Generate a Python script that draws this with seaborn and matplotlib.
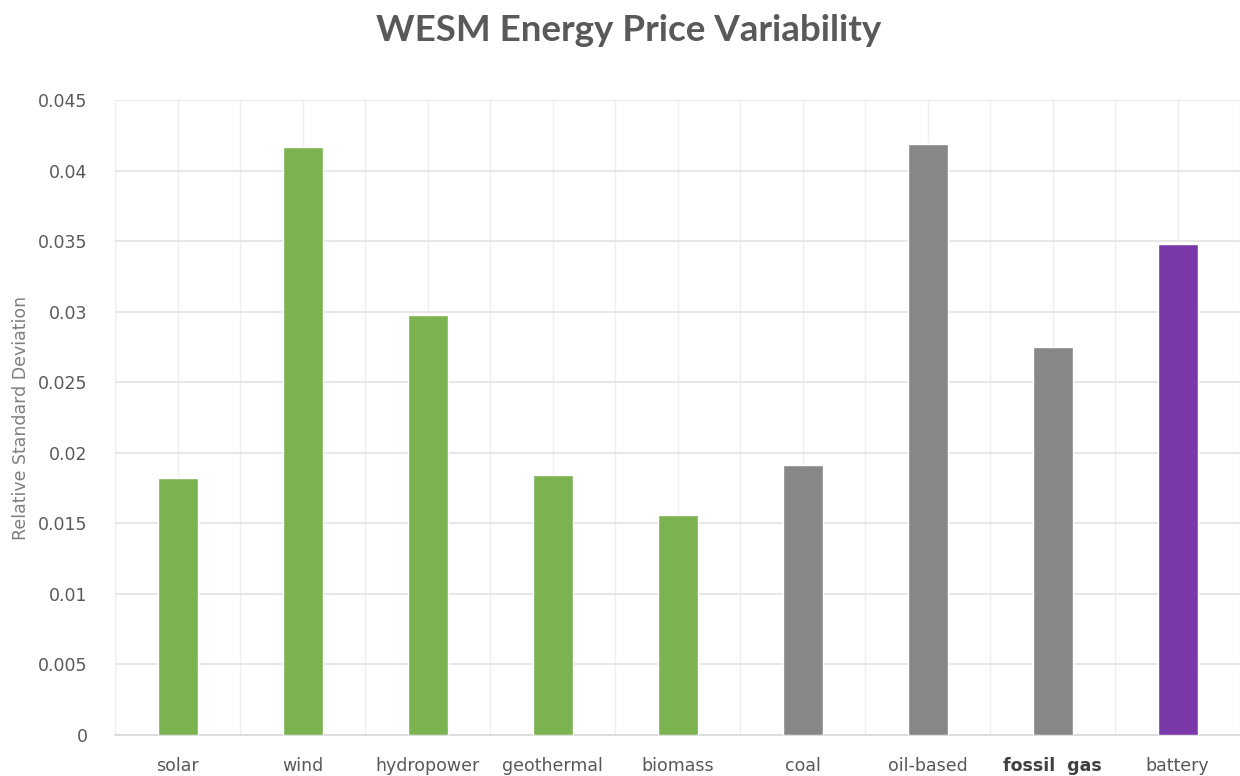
import matplotlib
matplotlib.use("Agg")
import matplotlib.pyplot as plt
import seaborn as sns
import pandas as pd
import numpy as np

categories = ["solar", "wind", "hydropower", "geothermal", "biomass",
              "coal", "oil-based", "fossil gas", "battery"]
rsd_values = [0.0182, 0.0417, 0.0298, 0.0184, 0.0156,
              0.0191, 0.0419, 0.0275, 0.0348]
groups = ["renewable", "renewable", "renewable", "renewable", "renewable",
          "fossil", "fossil", "fossil", "storage"]
group_colors = {"renewable": "#7ab350", "fossil": "#878787", "storage": "#7b38a8"}

df = pd.DataFrame({"source": categories, "rsd": rsd_values, "group": groups})

sns.set_style("white")
plt.rcParams["font.family"] = ["DejaVu Sans"]

fig = plt.figure(figsize=(12.4, 7.76), dpi=100)
ax = fig.add_axes([0.093, 0.053, 0.907, 0.818])

sns.barplot(data=df, x="source", y="rsd", hue="group", palette=group_colors,
            width=0.32, dodge=False, legend=False, saturation=1, ax=ax, zorder=3)

ax.set_xlim(-0.5, len(categories) - 0.5)
ax.set_ylim(0, 0.045)
ax.set_yticks(np.arange(0, 0.0451, 0.005))
ax.set_yticklabels(["0", "0.005", "0.01", "0.015", "0.02", "0.025",
                    "0.03", "0.035", "0.04", "0.045"])

# gridlines: horizontal major, vertical at centres and boundaries
ax.set_xticks(np.arange(-0.5, len(categories), 1.0), minor=True)
ax.grid(axis="y", color="#e3e3e3", linewidth=1.2, zorder=0)
ax.grid(axis="x", which="major", color="#efefef", linewidth=1.0, zorder=0)
ax.grid(axis="x", which="minor", color="#efefef", linewidth=1.0, zorder=0)
ax.set_axisbelow(True)

for s in ["top", "right", "left"]:
    ax.spines[s].set_visible(False)
ax.spines["bottom"].set_color("#d9d9d9")
ax.spines["bottom"].set_linewidth(1.2)

ax.tick_params(axis="both", which="both", length=0, labelsize=12.5,
               labelcolor="#595959")
ax.tick_params(axis="y", pad=20)
ax.tick_params(axis="x", pad=16)

# "fossil gas" is set in a heavier, darker face in the original
ax.set_xticks(range(len(categories)))
ax.set_xticklabels([c.replace("fossil gas", "fossil  gas") for c in categories])
for lbl in ax.get_xticklabels():
    if lbl.get_text() == "fossil  gas":
        lbl.set_color("#404040")
        lbl.set_fontweight("bold")
        lbl.set_fontsize(12.5)

ax.set_xlabel("")
ax.set_ylabel("Relative Standard Deviation", fontsize=12.5, color="#7f7f7f",
              labelpad=6)

fig.suptitle("WESM Energy Price Variability", fontsize=26.5, fontweight="bold",
             color="#595959", x=0.507, y=0.982, fontfamily="Lato")

fig.savefig("out.png", dpi=100)
